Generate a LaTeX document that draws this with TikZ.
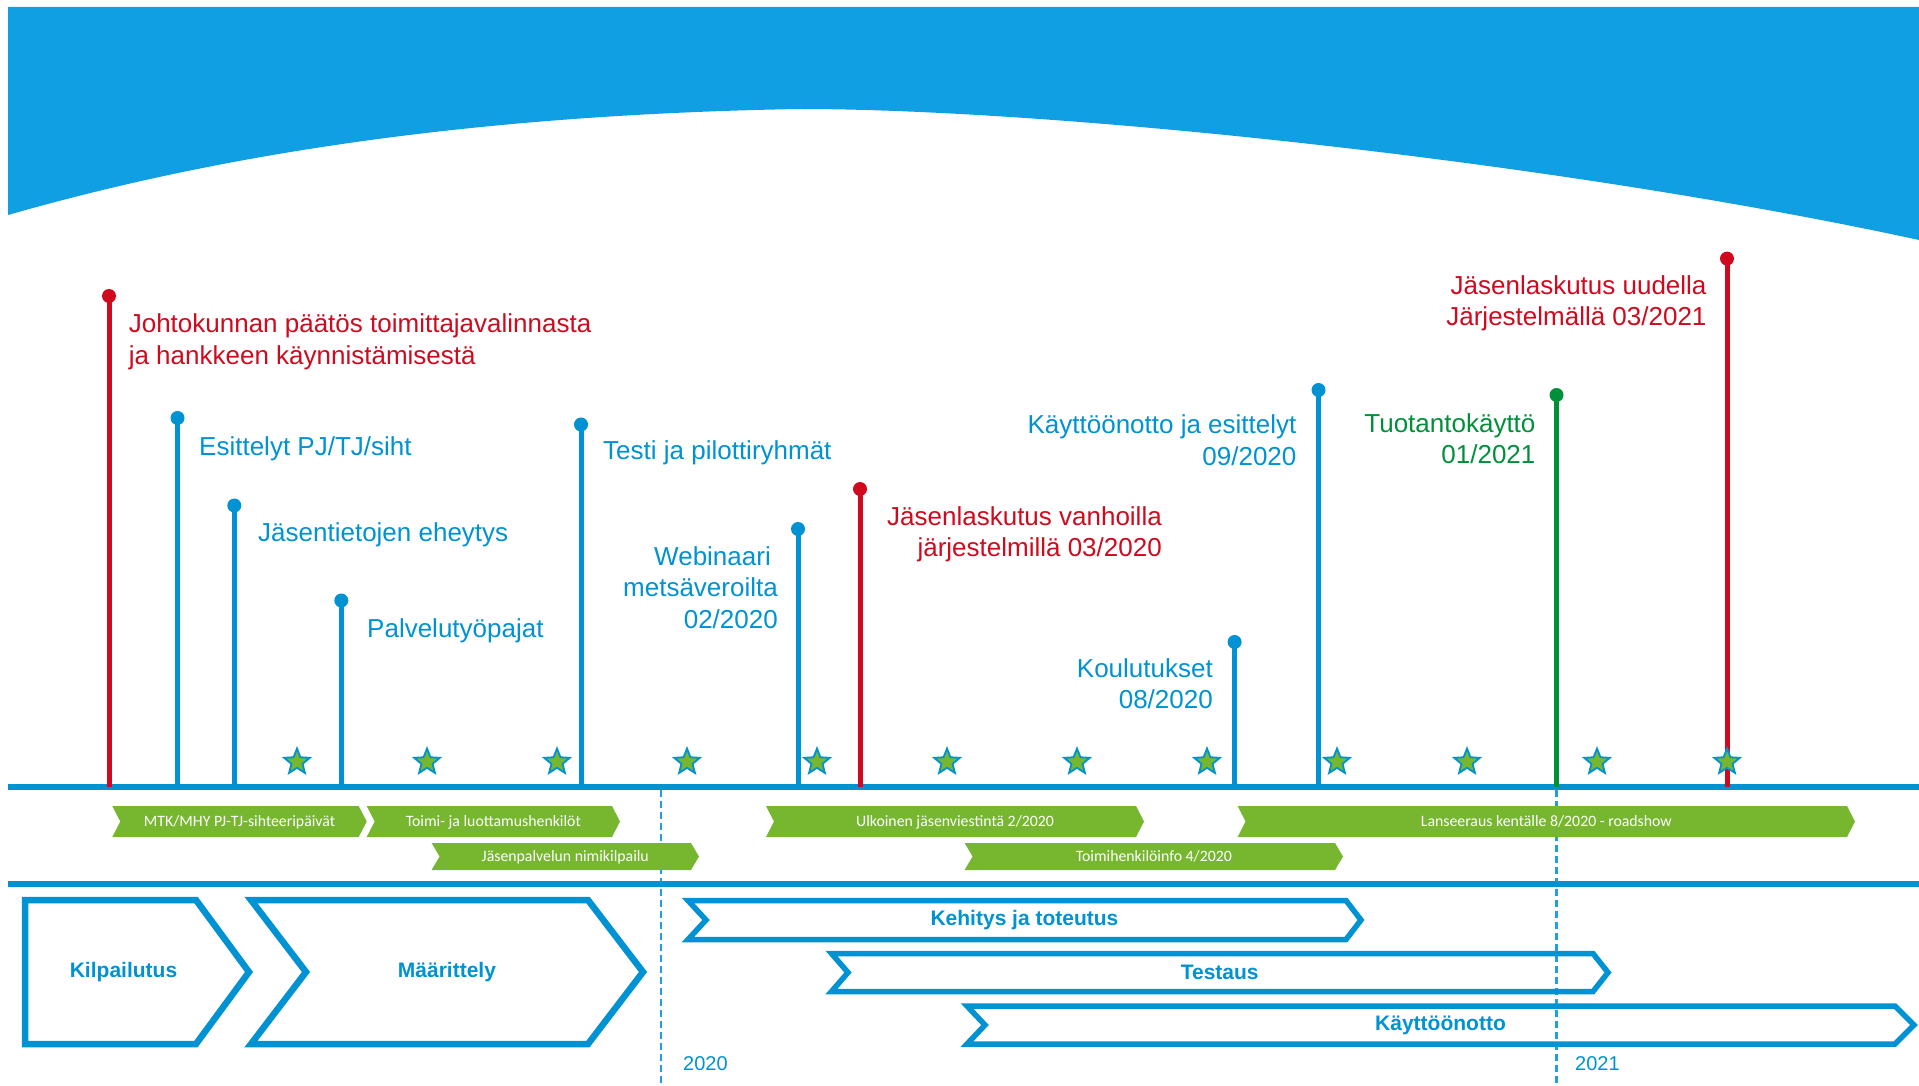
\documentclass[tikz,border=0pt]{standalone}
\usepackage{fontspec}
\setmainfont{Liberation Sans}
\newfontfamily\bannerfont{Carlito}
\usetikzlibrary{shapes.geometric, positioning}

\definecolor{bandblue}{HTML}{109FE2}
\definecolor{lineblue}{HTML}{0092D2}
\definecolor{dashblue}{HTML}{1FA0E0}
\definecolor{pinred}{HTML}{D00A1E}
\definecolor{pingreen}{HTML}{00903A}
\definecolor{leafgreen}{HTML}{76B72F}

\tikzset{
	stem/.style = {line width = 5pt},
	pin/.style = {circle, inner sep = 0pt, minimum size = 14pt},
	pinlabel/.style = {inner sep = 0pt, font = \fontsize{26}{31.5}\selectfont},
	milestar/.style = {star, star points = 5, star point ratio = 2.3, minimum size = 27pt, inner sep = 0pt,
		fill = leafgreen, draw = lineblue, line width = 1.8pt},
	bannertext/.style = {text = white, font = \bannerfont\fontsize{15.8}{18}\selectfont, inner sep = 0pt, anchor = base},
	phase/.style = {draw = lineblue, line width = 5.5pt, line join = miter},
	phasetext/.style = {text = lineblue, font = \bfseries\fontsize{21}{24}\selectfont},
	yeartext/.style = {text = lineblue, font = \fontsize{20}{24}\selectfont, anchor = base west, inner sep = 0pt},
	yearline/.style = {dashblue, line width = 2.5pt, dash pattern = on 7pt off 4pt}
}

% green banner: name, left, right, top, bottom, text
\newcommand\greenbanner[6]{
	\fill [leafgreen] (#2, #4) -- (#3 - 8, #4) -- (#3, {(#4 + #5) / 2}) -- (#3 - 8, #5) -- (#2, #5) -- (#2 + 8, {(#4 + #5) / 2}) -- cycle;
	\node [bannertext] (#1) at ({(#2 + #3) / 2}, {(#4 + #5) / 2 + 5}) {#6};
}

% phase chevron: [text options], name, left, notch, body, tip, top, bottom, text
\newcommand\phasebox[9][]{
	\draw [phase] (#3, #7) -- (#5, #7) -- (#6, {(#7 + #8) / 2}) -- (#5, #8) -- (#3, #8) -- (#4, {(#7 + #8) / 2}) -- cycle;
	\node [phasetext, #1] (#2) at ({(#3 + #6) / 2}, {(#7 + #8) / 2}) {#9};
}

\begin{document}
\begin{tikzpicture}[x = 1pt, y = -1pt]

	\useasboundingbox (0, 0) rectangle (1919, 1086);

	% Sky band with curved lower edge
	
	\fill [bandblue] (8, 7) -- (1919, 7) -- (1919, 240)
		.. controls (1550, 160) and (1050, 109) .. (800, 109)
		.. controls (450, 115) and (200, 160) .. (8, 215) -- cycle;

	% Year dividers
	
	\draw [yearline] (661, 790) -- (661, 1086);
	\draw [yearline] (1556.5, 790) -- (1556.5, 1086);
	
	\node [yeartext] (year2020) at (683, 1070) {2020};
	\node [yeartext] (year2021) at (1575, 1070) {2021};

	% Time axes
	
	\begin{scope}[lineblue, line width = 6pt]
	
		\draw (8, 787) -- (1919, 787);
		\draw (8, 884) -- (1919, 884);
		
	\end{scope}

	% Milestone pins
	
	\foreach \name/\x/\y/\col in {johto/109/296/pinred, esittely/177.5/418/lineblue,
		tietojen/234.3/505.5/lineblue, pajat/341.3/600.5/lineblue, testi/581/424.5/lineblue,
		webinaari/798/529/lineblue, vanhat/860/489/pinred, koulutus/1234.6/642/lineblue,
		kaytto/1318.5/390/lineblue, tuotanto/1556.5/395/pingreen, uusi/1727/258.6/pinred}
		\draw [stem, color = \col] (\x, 787) -- (\x, \y) node [pin, fill = \col] (\name) {};

	% Stars along the axis
	
	\foreach \i in {0, ..., 11}
		\node [milestar] (star\i) at (297 + 130 * \i, 762) {};

	% Pin labels (multi-line ones sit on their last line)
	
	\begin{scope}[every node/.style = {pinlabel}]
	
		\node [text = pinred, align = left, anchor = base west] (johtotext) at (128.6, 364.1)
			{Johtokunnan päätös toimittajavalinnasta\\ja hankkeen käynnistämisestä};
		\node [text = lineblue, anchor = base west] (esittelytext) at (199, 455) {Esittelyt PJ/TJ/siht};
		\node [text = lineblue, anchor = base west] (tietojentext) at (258, 541) {Jäsentietojen eheytys};
		\node [text = lineblue, anchor = base west] (pajattext) at (367, 637) {Palvelutyöpajat};
		\node [text = lineblue, anchor = base west] (testitext) at (603, 459) {Testi ja pilottiryhmät};
		\node [text = lineblue, align = right, anchor = base east] (webinaaritext) at (778, 628)
			{Webinaari\hspace*{7pt}\\metsäveroilta\\02/2020};
		\node [text = pinred, align = right, anchor = base east] (vanhattext) at (1162, 556.5)
			{Jäsenlaskutus vanhoilla\\järjestelmillä 03/2020};
		\node [text = lineblue, align = right, anchor = base east] (koulutustext) at (1213, 708.5)
			{Koulutukset\\08/2020};
		\node [text = lineblue, align = right, anchor = base east] (kayttotext) at (1296.6, 465.1)
			{Käyttöönotto ja esittelyt\\09/2020};
		\node [text = pingreen, align = right, anchor = base east] (tuotantotext) at (1535.6, 463.5)
			{Tuotantokäyttö\\01/2021};
		\node [text = pinred, align = right, anchor = base east] (uusitext) at (1706.7, 325.5)
			{Jäsenlaskutus uudella\\Järjestelmällä 03/2021};
	
	\end{scope}

	% Communication banners
	
	\greenbanner{mtk}{112.3}{366.7}{806}{837}{MTK/MHY PJ-TJ-sihteeripäivät}
	\greenbanner{luottamus}{366.7}{620}{806}{837}{Toimi- ja luottamushenkilöt}
	\greenbanner{nimikilpailu}{431.6}{699}{843}{870}{Jäsenpalvelun nimikilpailu}
	\greenbanner{ulkoinen}{766}{1144}{806}{837}{Ulkoinen jäsenviestintä 2/2020}
	\greenbanner{toimihenkilo}{964.6}{1343}{843}{870}{Toimihenkilöinfo 4/2020}
	\greenbanner{lanseeraus}{1237.6}{1855}{806}{837}{Lanseeraus kentälle 8/2020 - roadshow}

	% Project phases
	
	\begin{scope}[phase/.append style = {line width = 6.5pt}]
	
		\phasebox[xshift = -13.5pt]{kilpailutus}{25}{25}{196}{249}{900}{1044}{Kilpailutus}
		\phasebox{maarittely}{251}{306}{588}{643}{900}{1044}{Määrittely}
		
	\end{scope}
	
	\phasebox{kehitys}{688}{706}{1346}{1361}{900.5}{939.5}{Kehitys ja toteutus}
	\phasebox{testaus}{831.5}{848}{1593}{1608}{953.5}{991.5}{Testaus}
	\phasebox{kayttoonotto}{967}{985}{1895}{1914}{1006}{1044}{Käyttöönotto}

\end{tikzpicture}
\end{document}
